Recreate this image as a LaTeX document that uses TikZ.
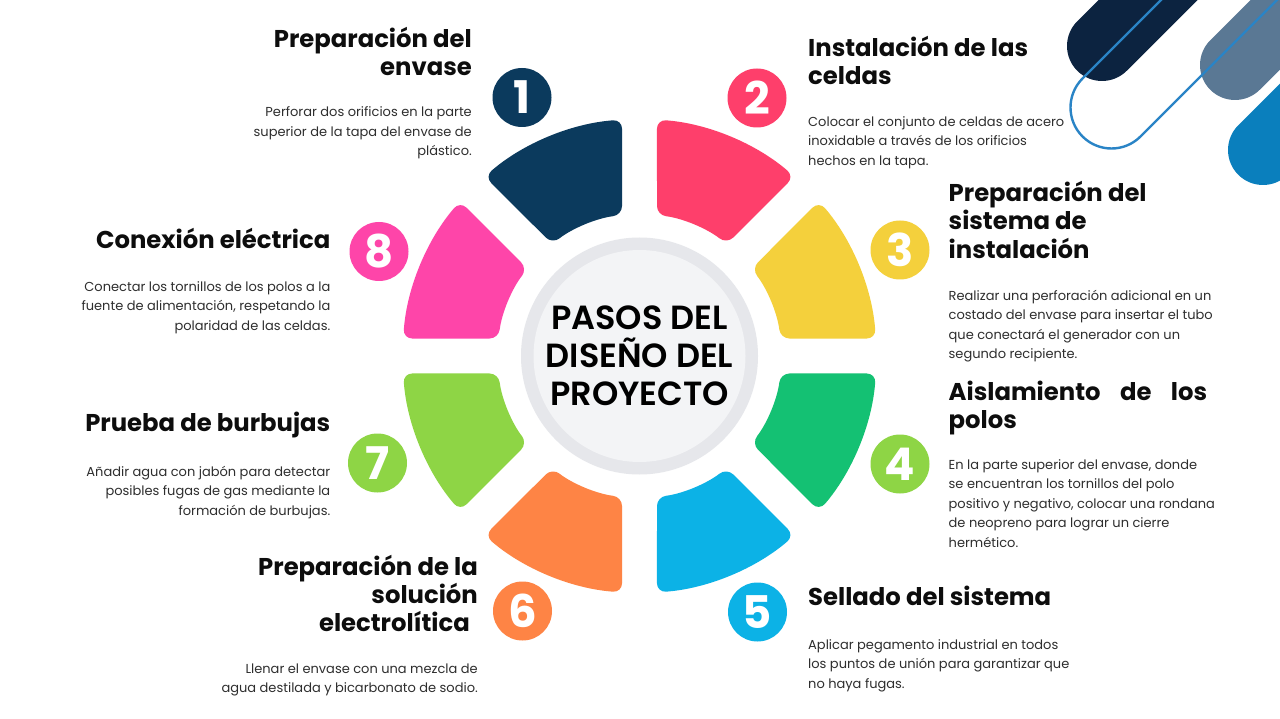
\documentclass[tikz,border=0pt]{standalone}
\usepackage{fontspec}
\setmainfont{Poppins}
\newfontfamily\pasosmedium{Poppins SemiBold}
\usepackage{tikz}
\usetikzlibrary{calc, positioning}

\definecolor{pasoUno}{HTML}{0B3A5D}
\definecolor{pasoDos}{HTML}{FE3F6B}
\definecolor{pasoTres}{HTML}{F4D03C}
\definecolor{pasoCuatro}{HTML}{14C173}
\definecolor{pasoCinco}{HTML}{0CB2E6}
\definecolor{pasoSeis}{HTML}{FE8445}
\definecolor{pasoSiete}{HTML}{8ED545}
\definecolor{pasoOcho}{HTML}{FE45A9}
\definecolor{anilloGris}{HTML}{E6E7EB}
\definecolor{centroGris}{HTML}{F3F4F6}
\definecolor{barraNavy}{HTML}{0C2340}
\definecolor{barraAcero}{HTML}{5A7894}
\definecolor{barraLinea}{HTML}{2A84C6}
\definecolor{barraAzul}{HTML}{0A7FBD}
\definecolor{tituloNegro}{HTML}{0D0D0D}
\definecolor{textoGris}{HTML}{2E2E2E}

\tikzset{
  titulo/.style={
    inner sep=0pt, text=tituloNegro,
    font=\fontsize{24.3}{28.3}\selectfont\bfseries
  },
  texto/.style={
    inner sep=0pt, text=textoGris,
    font=\fontsize{13}{19.5}\selectfont
  },
  numero/.style={
    circle, inner sep=0pt, minimum size=59pt, text=white,
    font=\fontsize{45}{45}\selectfont\bfseries
  },
  barra/.style={
    line width=70pt, line cap=round
  }
}

% one coloured piece of the ring: #1 start angle, #2 colour
\newcommand{\pasoseg}[2]{%
  \fill[#2, rounded corners=9pt] (#1+4.23:237pt)
    arc[start angle=#1+4.23, end angle=#1+40.77, radius=237pt]
    -- (#1+37.92:142pt)
    arc[start angle=#1+37.92, end angle=#1+7.08, radius=142pt] -- cycle;
}
\newcommand{\tstrut}{\rule{0pt}{24pt}}
\newcommand{\bstrut}{\rule{0pt}{13pt}}

\begin{document}
\begin{tikzpicture}[x=1pt, y=1pt]

\useasboundingbox (0,0) rectangle (1280,-719);
\fill[white] (0,0) rectangle (1280,-719);

% bars top right
\begin{scope}
\clip (0,0) rectangle (1280,-719);
\draw[barra, barraNavy] (1102,-46) -- ++(45:250);
\draw[barra, barraAcero] (1235,-65) -- ++(45:250);
\draw[barra, barraAzul] (1263,-150) -- ++(45:250);
\draw[barraLinea, line width=2.4pt]
  ($(1111.5,-107.5)+(135:41)+(45:300)$) -- ($(1111.5,-107.5)+(135:41)$)
  arc[start angle=135, end angle=315, radius=41pt] -- ++(45:300);
\end{scope}

% ring
\begin{scope}[shift={(639.5,-356)}]
\pasoseg{90}{pasoUno}
\pasoseg{45}{pasoDos}
\pasoseg{0}{pasoTres}
\pasoseg{-45}{pasoCuatro}
\pasoseg{-90}{pasoCinco}
\pasoseg{-135}{pasoSeis}
\pasoseg{180}{pasoSiete}
\pasoseg{135}{pasoOcho}
\end{scope}

\node[circle, fill=anilloGris, minimum size=237pt, inner sep=0pt] (anillo) at (639.5,-356) {};
\node[circle, fill=centroGris, minimum size=212pt, inner sep=0pt] (fondo) at (anillo) {};
\node[align=center, font=\pasosmedium\fontsize{33.5}{38}\selectfont, text=black] (centro) at (anillo) {PASOS DEL\\DISEÑO DEL\\PROYECTO};

% numbers
\node[numero, fill=pasoUno] (num1) at (522,-97.5) {1};
\node[numero, fill=pasoDos] (num2) at (757,-98) {2};
\node[numero, fill=pasoTres] (num3) at (900,-250) {3};
\node[numero, fill=pasoSiete] (num4) at (900,-464) {4};
\node[numero, fill=pasoCinco] (num5) at (757.5,-612) {5};
\node[numero, fill=pasoSeis] (num6) at (522.5,-611) {6};
\node[numero, fill=pasoSiete] (num7) at (377.5,-463) {7};
\node[numero, fill=pasoOcho] (num8) at (379,-251.5) {8};

% step 1
\node[titulo, anchor=north east, align=right] (titulo1) at (472,-23) {\tstrut Preparación del\\envase};
\node[texto, anchor=north east, align=right] (texto1) at (472,-103.5) {\bstrut Perforar dos orificios en la parte\\superior de la tapa del envase de\\plástico.};

% step 2
\node[titulo, anchor=north west, align=left] (titulo2) at (808,-32.5) {\tstrut Instalación de las\\celdas};
\node[texto, anchor=north west, align=left] (texto2) at (808,-113) {\bstrut Colocar el conjunto de celdas de acero\\inoxidable a través de los orificios\\hechos en la tapa.};

% step 3
\node[titulo, anchor=north west, align=left] (titulo3) at (948.5,-177.5) {\tstrut Preparación del\\sistema de\\instalación};
\node[texto, anchor=north west, align=left] (texto3) at (948.5,-287) {\bstrut Realizar una perforación adicional en un\\costado del envase para insertar el tubo\\que conectará el generador con un\\segundo recipiente.};

% step 4
\node[titulo, anchor=north west, align=left] (titulo4) at (948.5,-376) {\tstrut\makebox[258.5pt][s]{Aislamiento de los}\\polos};
\node[texto, anchor=north west, align=left] (texto4) at (948.5,-456) {\bstrut En la parte superior del envase, donde\\se encuentran los tornillos del polo\\positivo y negativo, colocar una rondana\\de neopreno para lograr un cierre\\hermético.};

% step 5
\node[titulo, anchor=north west, align=left] (titulo5) at (808,-581) {\tstrut Sellado del sistema};
\node[texto, anchor=north west, align=left] (texto5) at (808,-636) {\bstrut Aplicar pegamento industrial en todos\\los puntos de unión para garantizar que\\no haya fugas.};

% step 6
\node[titulo, anchor=north east, align=right] (titulo6) at (478,-551) {\tstrut Preparación de la\\solución\\electrolítica\hspace*{8pt}};
\node[texto, anchor=north east, align=right] (texto6) at (478,-660) {\bstrut Llenar el envase con una mezcla de\\agua destilada y bicarbonato de sodio.};

% step 7
\node[titulo, anchor=north east, align=right] (titulo7) at (330.5,-407.7) {\tstrut Prueba de burbujas};
\node[texto, anchor=north east, align=right] (texto7) at (330.5,-463) {\bstrut Añadir agua con jabón para detectar\\posibles fugas de gas mediante la\\formación de burbujas.};

% step 8
\node[titulo, anchor=north east, align=right] (titulo8) at (330.5,-224.3) {\tstrut Conexión eléctrica};
\node[texto, anchor=north east, align=right] (texto8) at (330.5,-278) {\bstrut Conectar los tornillos de los polos a la\\fuente de alimentación, respetando la\\polaridad de las celdas.};

\end{tikzpicture}
\end{document}
